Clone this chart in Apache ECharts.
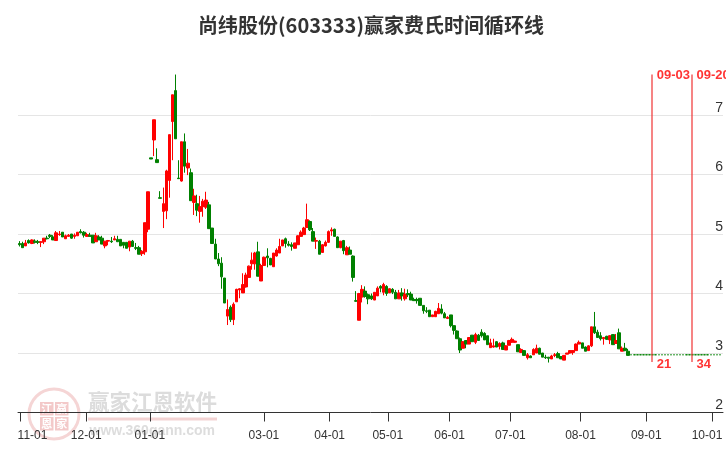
<!DOCTYPE html>
<html><head><meta charset="utf-8">
<script src="https://cdn.jsdelivr.net/npm/echarts@6/dist/echarts.min.js"></script>
<style>html,body{margin:0;padding:0;background:#fff}#c{width:726px;height:450px}</style></head>
<body><div id="c"></div>
<script>
const titleText = '尚纬股份(603333)赢家费氏时间循环线';
// rows: [open, close, low, high]
const candleRows = [
[4.84,4.82,4.79,4.88],[4.84,4.77,4.77,4.87],[4.80,4.85,4.80,4.90],[4.89,4.85,4.84,4.91],[4.84,4.90,4.83,4.91],
[4.88,4.86,4.84,4.91],[4.87,4.86,4.83,4.90],[4.86,4.87,4.78,4.88],[4.87,4.93,4.83,4.93],[4.93,4.92,4.91,4.97],
[4.98,4.96,4.93,5.00],[4.95,4.90,4.90,4.98],[4.89,5.02,4.89,5.05],[4.99,5.00,4.97,5.05],[5.03,4.95,4.95,5.03],
[4.92,4.97,4.92,4.99],[4.96,4.98,4.96,5.00],[5.00,4.93,4.92,5.00],[4.96,4.98,4.92,5.01],[4.97,5.03,4.97,5.03],
[5.04,5.02,5.01,5.08],[5.03,4.98,4.94,5.05],[4.96,4.99,4.96,5.02],[4.98,4.96,4.96,5.02],[4.98,4.85,4.85,4.98],
[4.87,4.97,4.87,5.02],[4.95,4.90,4.90,4.98],[4.93,4.83,4.83,4.97],[4.80,4.88,4.76,4.88],[4.88,4.89,4.81,4.90],
[4.88,4.87,4.85,4.95],[4.90,4.92,4.90,4.97],[4.91,4.87,4.87,4.97],[4.91,4.80,4.80,4.91],[4.86,4.81,4.76,4.86],
[4.86,4.76,4.76,4.86],[4.78,4.88,4.71,4.88],[4.88,4.79,4.79,4.90],[4.77,4.76,4.73,4.85],[4.77,4.66,4.66,4.80],
[4.67,4.71,4.63,4.73],[4.70,5.19,4.65,5.19],[5.08,5.71,5.03,5.71],[6.28,6.26,6.26,6.28],
[6.58,6.92,6.31,6.92],[6.25,6.20,6.20,6.44],[5.61,5.60,5.60,5.72],[5.38,5.51,5.10,5.78],[5.39,6.06,5.25,6.08],
[5.90,6.67,5.61,6.67],[6.89,7.34,6.24,7.34],[7.41,6.60,6.60,7.68],[5.94,5.93,5.93,6.24],[5.89,6.55,5.88,6.55],
[6.55,6.14,6.03,6.69],[6.11,6.19,5.99,6.43],[6.03,5.56,5.56,6.10],[5.53,5.64,5.32,5.76],[5.51,5.40,5.30,5.66],
[5.38,5.46,5.19,5.64],[5.46,5.55,5.29,5.59],[5.45,5.57,5.42,5.71],[5.49,5.09,5.09,5.54],[5.10,4.84,4.84,5.10],
[4.83,4.58,4.58,4.92],[4.58,4.50,4.46,4.68],[4.51,4.28,4.08,4.61],[4.26,3.84,3.84,4.26],[3.62,3.73,3.47,3.90],
[3.77,3.56,3.52,3.80],[3.56,3.82,3.47,3.85],[3.86,4.07,3.86,4.08],[4.06,4.08,3.92,4.09],[4.01,4.15,4.01,4.34],
[4.11,4.31,4.10,4.35],[4.27,4.46,4.27,4.47],[4.50,4.56,4.40,4.69],[4.50,4.68,4.40,4.70],[4.70,4.29,4.29,4.87],
[4.21,4.47,4.21,4.50],[4.47,4.61,4.47,4.62],[4.63,4.60,4.44,4.76],[4.59,4.48,4.48,4.60],[4.45,4.68,4.45,4.68],
[4.63,4.73,4.62,4.76],[4.68,4.79,4.68,4.92],[4.80,4.90,4.80,4.90],[4.92,4.84,4.77,4.94],[4.83,4.81,4.79,4.88],
[4.82,4.79,4.72,4.86],[4.76,4.85,4.76,4.85],[4.82,4.97,4.82,4.98],[4.96,5.03,4.96,5.06],[4.99,5.10,4.99,5.12],
[5.11,5.24,5.11,5.51],[5.21,5.07,5.05,5.23],[5.04,4.88,4.88,5.10],[4.88,4.89,4.75,4.94],[4.88,4.66,4.66,4.90],
[4.69,4.82,4.69,4.83],[4.80,4.86,4.79,4.89],[4.86,5.04,4.85,5.06],[5.05,5.07,4.97,5.11],[5.08,4.96,4.96,5.09],
[4.95,4.77,4.77,4.96],[4.77,4.88,4.76,4.88],[4.89,4.72,4.66,4.90],[4.65,4.77,4.65,4.80],[4.73,4.66,4.66,4.79],
[4.63,4.27,4.20,4.64],[3.88,3.87,3.86,4.04],[3.55,4.00,3.55,4.01],[3.94,4.07,3.85,4.14],[4.04,3.95,3.93,4.12],
[3.98,3.91,3.82,4.00],[3.96,3.91,3.89,4.00],[3.89,4.02,3.89,4.02],[3.96,4.09,3.96,4.12],[4.12,4.09,4.02,4.14],
[4.02,4.15,3.97,4.18],[4.12,4.00,3.96,4.14],[4.01,4.08,4.01,4.09],[4.07,4.02,3.99,4.09],[4.02,3.91,3.91,4.06],
[3.91,4.01,3.91,4.06],[4.01,3.96,3.88,4.09],[3.91,3.99,3.88,4.08],[4.00,3.98,3.94,4.07],[3.99,3.89,3.89,4.03],
[3.90,3.88,3.88,3.93],[3.90,3.88,3.83,3.93],[3.92,3.80,3.80,3.92],[3.80,3.71,3.66,3.80],[3.71,3.70,3.67,3.77],
[3.72,3.61,3.61,3.72],[3.61,3.64,3.61,3.64],[3.61,3.70,3.61,3.71],[3.66,3.75,3.66,3.84],[3.74,3.67,3.65,3.82],
[3.66,3.59,3.59,3.69],[3.58,3.60,3.57,3.62],[3.64,3.46,3.43,3.64],[3.46,3.38,3.31,3.46],[3.37,3.24,3.24,3.38],
[3.24,3.05,3.00,3.26],[3.08,3.19,3.08,3.20],[3.21,3.15,3.08,3.21],[3.15,3.26,3.15,3.26],[3.30,3.19,3.19,3.30],
[3.18,3.31,3.15,3.34],[3.30,3.21,3.21,3.32],[3.35,3.29,3.26,3.40],[3.33,3.22,3.22,3.35],[3.29,3.14,3.14,3.29],
[3.09,3.17,3.09,3.24],[3.10,3.12,3.09,3.24],[3.19,3.10,3.10,3.20],[3.11,3.16,3.06,3.18],[3.17,3.06,3.06,3.19],
[3.05,3.12,3.05,3.13],[3.13,3.21,3.13,3.22],[3.18,3.23,3.17,3.26],[3.18,3.20,3.17,3.21],[3.14,3.02,3.02,3.14],
[3.01,3.06,3.00,3.08],[3.04,2.96,2.96,3.05],[2.92,2.97,2.89,3.00],[2.95,2.92,2.92,2.96],[2.97,3.06,2.97,3.08],
[3.00,3.08,3.00,3.14],[3.08,2.98,2.98,3.09],[3.00,2.93,2.93,3.00],[2.93,2.92,2.90,2.97],[2.93,2.91,2.84,2.93],
[2.90,2.95,2.90,2.97],[2.96,2.97,2.93,3.00],[2.99,2.92,2.92,3.02],[2.94,2.90,2.90,2.95],[2.88,2.96,2.88,2.96],
[2.98,3.00,2.98,3.00],[3.00,3.04,2.99,3.05],[3.01,3.04,2.97,3.05],[3.04,3.15,3.04,3.16],[3.15,3.18,3.15,3.21],
[3.17,3.08,3.08,3.17],[3.10,3.03,3.03,3.11],[3.04,3.12,3.04,3.13],[3.12,3.44,3.10,3.44],[3.44,3.34,3.32,3.69],
[3.35,3.26,3.26,3.39],[3.29,3.24,3.21,3.35],[3.24,3.26,3.14,3.27],[3.28,3.23,3.22,3.29],[3.22,3.29,3.15,3.30],
[3.31,3.14,3.14,3.31],[3.16,3.21,3.16,3.32],[3.34,3.07,3.07,3.41],[3.03,3.08,3.03,3.11],[3.08,3.04,3.03,3.17],
[3.03,2.96,2.96,3.07]
];
const flatFuturePrice = [2.97];
const slotCount = 230;
const tickSlots = [0.16,21.8,42.6,79.9,101.4,120.4,140.6,160.5,183.4,204.9,226.4];
const tickLabels = ['11-01','12-01','01-01','03-01','04-01','05-01','06-01','07-01','08-01','09-01','10-01'];
const cycleSlots = [206.7,219.7];
const cycleDates = ['09-03','09-20'];
const cycleCounts = ['21','34'];
const cycleTop = [7.68];
const cycleBottom = [2.85];
const cycleCountLevel = [2.81];
const cycleDateLevel = [7.66];

const ohlc = candleRows.map((r,i)=>[i].concat(r));
const tail = [];
for(let i=candleRows.length;i<slotCount;i++){
  const p=flatFuturePrice[0];
  tail.push([i,p,p,p,p]);
}
const redLine = 'rgba(240,50,50,0.8)';
const labelFont = {fontFamily:'"Liberation Sans"',fontSize:12,color:'#333'};
const candleStyle = {color:'#ff0000',color0:'#008000',borderColor:'#ff0000',borderColor0:'#008000',borderColorDoji:'#008000',borderWidth:1};

const chart = echarts.init(document.getElementById('c'),null,{renderer:'canvas'});
chart.setOption({
  animation:false,
  backgroundColor:'#fff',
  title:{text:titleText,top:10,left:366,textAlign:'center',
    textStyle:{fontFamily:'"Noto Sans CJK SC"',fontSize:20,fontWeight:'bold',color:'#333'}},
  grid:{left:18,width:706,top:55.5,height:357,containLabel:false},
  xAxis:{type:'value',min:-0.5,max:slotCount,
    axisLine:{show:true,onZero:false,lineStyle:{color:'#333',width:1}},
    axisTick:{show:true,customValues:tickSlots,length:9,lineStyle:{color:'#333',width:1}},
    axisLabel:{show:true,customValues:tickSlots,margin:17,color:'#333',fontFamily:'"Liberation Sans"',fontSize:12,
      showMinLabel:true,showMaxLabel:true,hideOverlap:false,
      formatter:(v)=>{const k=tickSlots.indexOf(v);const s=tickLabels[k];
        if(k===0) return '{l|'+s+'}';
        if(k===tickSlots.length-1) return '{r|'+s+'}';
        return s;},
      rich:{l:Object.assign({padding:[0,0,0,25]},labelFont),r:Object.assign({padding:[0,10,0,0]},labelFont)}},
    splitLine:{show:false}},
  yAxis:{type:'value',position:'right',min:2,max:8,interval:1,
    axisLine:{show:false,onZero:false},axisTick:{show:false},
    axisLabel:{inside:true,margin:0,color:'#333',fontFamily:'"Liberation Sans"',fontSize:14,verticalAlign:'bottom',showMaxLabel:false,showMinLabel:true},
    splitLine:{show:true,showMinLine:false,showMaxLine:false,lineStyle:{color:'#e5e5e5',width:1}}},
  graphic:{elements:[
    {type:'group',z:-1,silent:true,children:[
      {type:'circle',shape:{cx:54,cy:414,r:25},style:{fill:'none',stroke:'#f5d5d5',lineWidth:3}},
      {type:'rect',shape:{x:40,y:402,width:13.5,height:13.5},style:{fill:'#f3c9c9'}},
      {type:'rect',shape:{x:55,y:402,width:13.5,height:13.5},style:{fill:'#f3c9c9'}},
      {type:'rect',shape:{x:40,y:417,width:13.5,height:13.5},style:{fill:'#f3c9c9'}},
      {type:'rect',shape:{x:55,y:417,width:13.5,height:13.5},style:{fill:'#f3c9c9'}},
      {type:'text',style:{x:46.7,y:408.7,text:'江',align:'center',verticalAlign:'middle',fill:'#fff',font:'bold 11px "Noto Sans CJK SC"'}},
      {type:'text',style:{x:61.7,y:408.7,text:'赢',align:'center',verticalAlign:'middle',fill:'#fff',font:'bold 11px "Noto Sans CJK SC"'}},
      {type:'text',style:{x:46.7,y:423.7,text:'恩',align:'center',verticalAlign:'middle',fill:'#fff',font:'bold 11px "Noto Sans CJK SC"'}},
      {type:'text',style:{x:61.7,y:423.7,text:'家',align:'center',verticalAlign:'middle',fill:'#fff',font:'bold 11px "Noto Sans CJK SC"'}},
      {type:'text',style:{x:88,y:402,text:'赢家江恩软件',align:'left',verticalAlign:'middle',fill:'#dcdcdc',font:'bold 21.5px "Noto Sans CJK SC"'}},
      {type:'rect',shape:{x:88,y:417.5,width:129,height:3},style:{fill:'#f3d3d3'}},
      {type:'text',style:{x:215,y:431.5,text:'www.360gann.com',align:'right',verticalAlign:'middle',fill:'#dddddd',font:'bold 14px "Liberation Sans"'}}
    ]}
  ]},
  series:[
    {type:'candlestick',data:ohlc,barWidth:3,clip:false,silent:true,itemStyle:candleStyle,
      markLine:{silent:true,symbol:'none',animation:false,label:{show:false},
        lineStyle:{color:redLine,width:1.5,type:'solid'},
        data:cycleSlots.map(ix=>[{coord:[ix,cycleTop[0]]},{coord:[ix,cycleBottom[0]]}])}},
    {type:'candlestick',data:tail,barWidth:2,clip:false,silent:true,itemStyle:candleStyle},
    {type:'scatter',silent:true,symbolSize:0,
      data:cycleSlots.map((ix,k)=>({value:[ix,cycleDateLevel[0]],label:{formatter:cycleDates[k]}})),
      label:{show:true,position:'right',distance:5,color:'#ff0000',fontFamily:'"Liberation Sans"',fontWeight:'bold',fontSize:13}},
    {type:'scatter',silent:true,symbolSize:0,
      data:cycleSlots.map((ix,k)=>({value:[ix,cycleCountLevel[0]],label:{formatter:cycleCounts[k]}})),
      label:{show:true,position:'right',distance:5,color:'#ff0000',fontFamily:'"Liberation Sans"',fontWeight:'bold',fontSize:13}}
  ]
});
</script></body></html>
